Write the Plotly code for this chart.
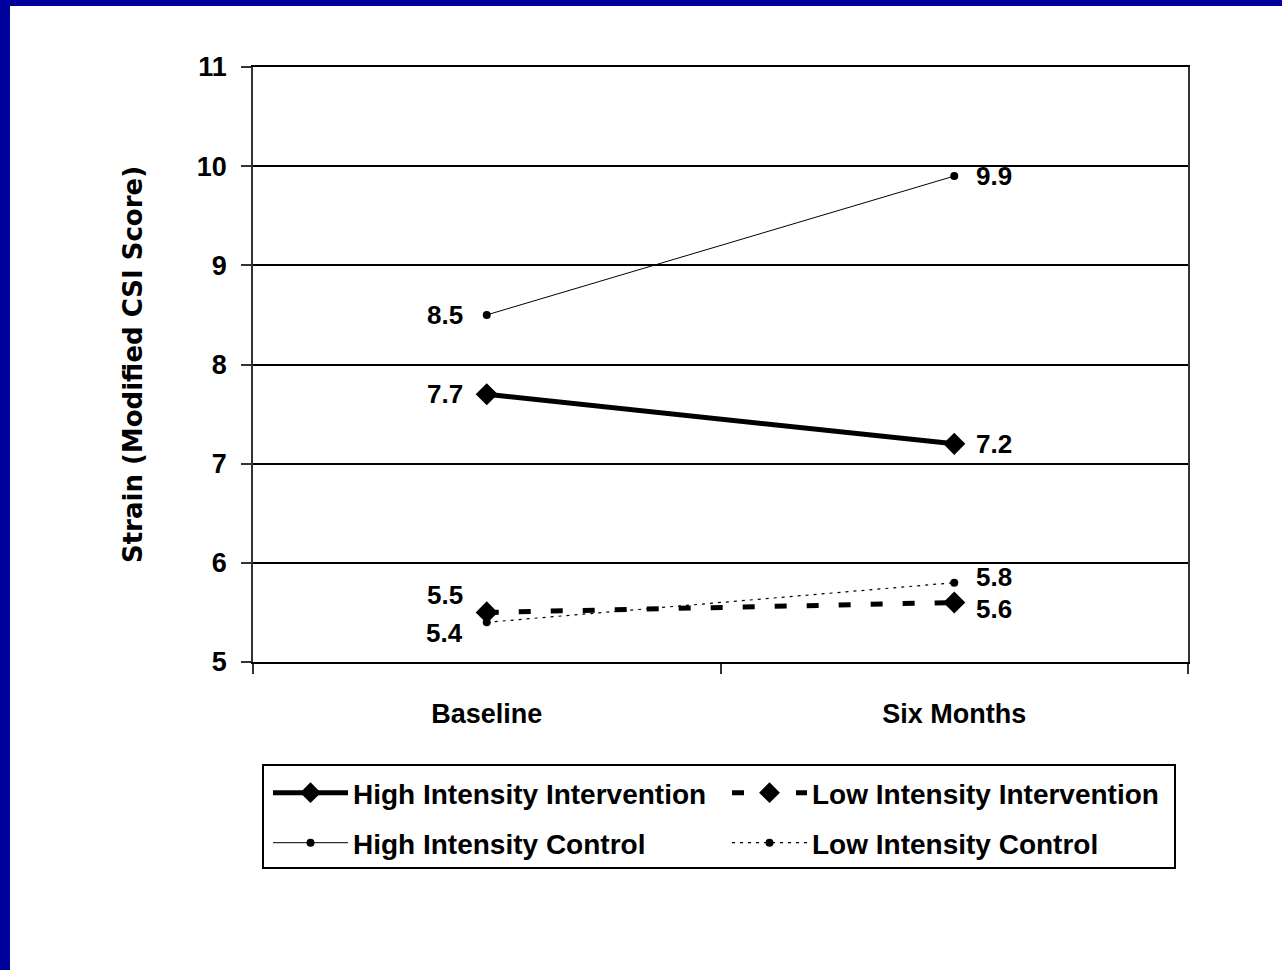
import plotly.graph_objects as go

categories = ["Baseline", "Six Months"]
high_int = [7.7, 7.2]
low_int = [5.5, 5.6]
high_ctrl = [8.5, 9.9]
low_ctrl = [5.4, 5.8]
names = ["High Intensity Intervention", "Low Intensity Intervention",
         "High Intensity Control", "Low Intensity Control"]
y_ticks = [5, 6, 7, 8, 9, 10, 11]

FONT = "Liberation Sans, Arial, sans-serif"
BLUE = "#00009c"

# plot-area pixel geometry (within the 1282x970 page)
L, R, T, B = 253, 1188, 67, 662
W, H = 1282, 970
pw, ph = R - L, B - T
def px(x):
    return (x - L) / pw
def py(y):
    return (B - y) / ph

# (name, values, line style, marker style, label y-shifts per point, legend)
series = [
    (names[0], high_int, dict(width=5, dash="solid"), dict(symbol="diamond", size=17),
     [0, 0], "legend"),
    (names[1], low_int, dict(width=5, dash="12px,20px"), dict(symbol="diamond", size=17),
     [17, -6], "legend"),
    (names[2], high_ctrl, dict(width=1, dash="solid"), dict(symbol="circle", size=8),
     [0, 0], "legend2"),
    (names[3], low_ctrl, dict(width=1.2, dash="3px,5px"), dict(symbol="circle", size=8),
     [-11, 6], "legend2"),
]

fig = go.Figure()
annotations = []
for name, vals, line, marker, yshifts, leg in series:
    fig.add_trace(go.Scatter(
        x=categories, y=vals, mode="lines+markers", name=name,
        line=dict(color="black", **line),
        marker=dict(color="black", **marker),
        legend=leg, showlegend=True, hoverinfo="skip"))
    for i, (c, v) in enumerate(zip(categories, vals)):
        left = (i == 0)
        annotations.append(dict(
            x=c, y=v, xref="x", yref="y", text=f"{v:.1f}", showarrow=False,
            xanchor="right" if left else "left", yanchor="middle",
            xshift=-22 if left else 20, yshift=yshifts[i],
            font=dict(family=FONT, size=26, color="black", weight="bold")))

legend_common = dict(
    orientation="h", xanchor="left", yanchor="middle",
    bgcolor="rgba(0,0,0,0)", borderwidth=0,
    font=dict(family=FONT, size=28, color="black", weight="bold"),
    itemwidth=75, entrywidth=369, entrywidthmode="pixels",
    itemsizing="trace", itemclick=False,
)

fig.update_layout(
    width=W, height=H,
    margin=dict(l=L, r=W - R, t=T, b=H - B),
    paper_bgcolor="white", plot_bgcolor="white",
    font=dict(family=FONT, color="black"),
    legend=dict(x=px(268), y=py(793), **legend_common),
    legend2=dict(x=px(268), y=py(843), **legend_common),
    annotations=annotations,
    xaxis=dict(
        type="category", range=[-0.5, 1.5],
        showline=True, linecolor="black", linewidth=2.2, mirror=True,
        ticks="outside", tickson="boundaries", ticklen=10, tickwidth=1.5, tickcolor="#333",
        showgrid=False, ticklabelstandoff=26,
        tickfont=dict(family=FONT, size=27, color="black", weight="bold"),
    ),
    yaxis=dict(
        range=[5, 11], tickvals=y_ticks,
        showline=True, linecolor="#333", linewidth=1.5, mirror=True,
        ticks="outside", ticklen=10, tickwidth=1.5, tickcolor="#333",
        showgrid=True, gridcolor="black", gridwidth=2.2,
        ticklabelstandoff=9,
        tickfont=dict(family=FONT, size=27, color="black", weight="bold"),
        title=dict(text="Strain (Modified CSI Score)", standoff=47,
                   font=dict(family="DejaVu Sans, sans-serif", size=26, color="black", weight="bold")),
    ),
    shapes=[
        # blue frame (top band and left band)
        dict(type="rect", xref="paper", yref="paper", x0=px(0), x1=px(W), y0=py(6), y1=py(0),
             fillcolor=BLUE, line=dict(width=0), layer="above"),
        dict(type="rect", xref="paper", yref="paper", x0=px(0), x1=px(10), y0=py(H), y1=py(0),
             fillcolor=BLUE, line=dict(width=0), layer="above"),
        # legend box
        dict(type="rect", xref="paper", yref="paper", x0=px(263), x1=px(1175), y0=py(868), y1=py(765),
             line=dict(color="black", width=2), fillcolor="rgba(0,0,0,0)"),
    ],
)

fig.write_html("out.html")
